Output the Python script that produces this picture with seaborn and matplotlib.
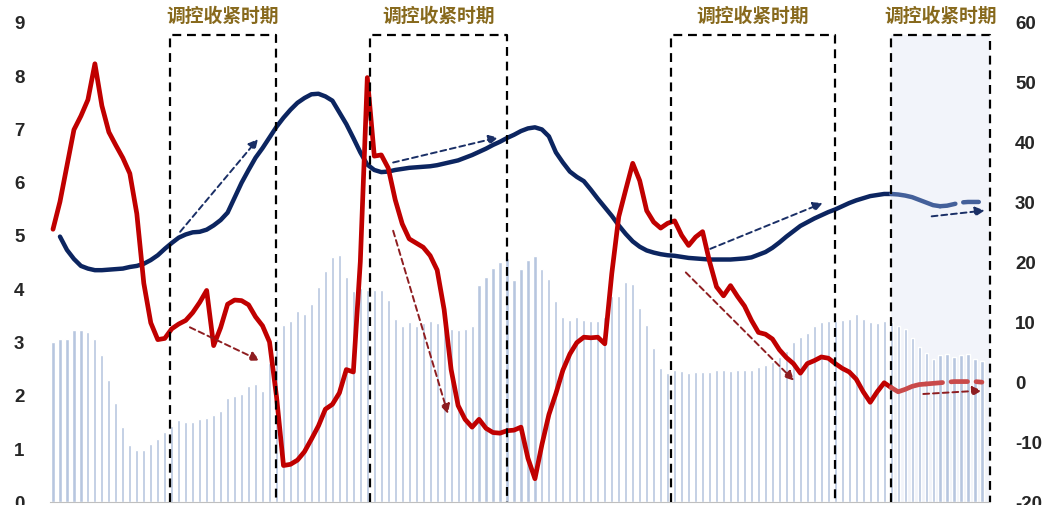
import numpy as np
import matplotlib
matplotlib.use('Agg')
import matplotlib.pyplot as plt
import seaborn as sns

# monthly bars (left axis)
bar_vals = [2.99, 3.05, 3.05, 3.21, 3.22, 3.18, 3.04, 2.74, 2.28, 1.85,
            1.39, 1.06, 0.96, 0.97, 1.08, 1.18, 1.31, 1.41, 1.52, 1.49,
            1.49, 1.55, 1.56, 1.62, 1.69, 1.94, 1.98, 2.01, 2.17, 2.20,
            2.08, 2.60, 3.04, 3.32, 3.39, 3.57, 3.51, 3.71, 4.03, 4.33,
            4.59, 4.62, 4.22, 3.94, 4.01, 3.96, 3.97, 3.97, 3.78, 3.43,
            3.30, 3.36, 3.30, 3.34, 3.38, 3.34, 3.28, 3.23, 3.21, 3.24,
            3.30, 4.06, 4.22, 4.39, 4.49, 4.56, 4.16, 4.37, 4.53, 4.60,
            4.37, 4.17, 3.77, 3.46, 3.41, 3.46, 3.41, 3.39, 3.38, 3.47,
            3.85, 3.85, 4.11, 4.08, 3.63, 3.32, 2.88, 2.50, 2.42, 2.46,
            2.45, 2.42, 2.43, 2.43, 2.43, 2.46, 2.46, 2.45, 2.47, 2.46,
            2.46, 2.53, 2.56, 2.61, 2.72, 2.82, 2.99, 3.09, 3.16, 3.29,
            3.36, 3.38, 3.39, 3.41, 3.43, 3.51, 3.43, 3.36, 3.34, 3.38,
            3.36, 3.30, 3.23, 3.07, 2.90, 2.79, 2.67, 2.75, 2.76, 2.72,
            2.74, 2.76, 2.67, 2.64]

# navy line (left axis)
blue_vals = [np.nan, 4.97, 4.72, 4.55, 4.42, 4.37, 4.34, 4.34, 4.35, 4.36,
             4.37, 4.40, 4.42, 4.46, 4.53, 4.62, 4.74, 4.85, 4.95, 5.01,
             5.05, 5.06, 5.10, 5.18, 5.28, 5.42, 5.70, 5.98, 6.22, 6.45,
             6.63, 6.83, 7.03, 7.20, 7.35, 7.48, 7.57, 7.64, 7.65, 7.60,
             7.52, 7.30, 7.08, 6.82, 6.55, 6.32, 6.22, 6.18, 6.19, 6.22,
             6.24, 6.26, 6.27, 6.28, 6.29, 6.31, 6.34, 6.37, 6.40, 6.45,
             6.50, 6.56, 6.62, 6.69, 6.75, 6.82, 6.88, 6.95, 7.00, 7.02,
             6.98, 6.85, 6.55, 6.36, 6.19, 6.09, 6.01, 5.85, 5.68, 5.52,
             5.36, 5.18, 5.02, 4.88, 4.78, 4.71, 4.67, 4.64, 4.62, 4.61,
             4.59, 4.57, 4.56, 4.55, 4.54, 4.54, 4.54, 4.54, 4.55, 4.56,
             4.58, 4.63, 4.68, 4.76, 4.86, 4.97, 5.07, 5.17, 5.24, 5.31,
             5.37, 5.43, 5.48, 5.54, 5.60, 5.65, 5.69, 5.73, 5.75, 5.77,
             5.77, 5.76, 5.74, 5.71, 5.66, 5.61, 5.56, 5.54, 5.55, 5.58,
             5.61, 5.62, 5.62, 5.62]

# red line (right axis)
red_vals = [25.4, 30.0, 36.0, 42.0, 44.3, 47.0, 53.0, 46.0, 41.6, 39.4,
            37.3, 34.7, 28.0, 16.4, 9.8, 7.0, 7.2, 8.8, 9.6, 10.2,
            11.5, 13.2, 15.2, 6.0, 9.0, 12.9, 13.6, 13.5, 12.8, 10.8,
            9.3, 6.6, -2.5, -14.0, -13.8, -13.1, -11.7, -9.6, -7.4, -4.6,
            -3.8, -1.9, 2.0, 1.6, 20.0, 50.7, 37.6, 37.8, 35.6, 30.3,
            26.3, 23.8, 23.1, 22.4, 21.0, 18.6, 12.0, 2.0, -4.0, -6.3,
            -7.6, -6.3, -7.8, -8.5, -8.6, -8.2, -8.1, -7.6, -12.8, -16.2,
            -10.5, -5.5, -2.0, 1.9, 4.6, 6.5, 7.4, 7.3, 7.4, 6.3,
            18.0, 27.5, 32.0, 36.4, 33.5, 28.5, 26.6, 25.6, 26.4, 26.8,
            24.4, 22.7, 24.1, 25.0, 20.0, 15.8, 14.3, 16.0, 14.2, 12.6,
            10.2, 8.2, 7.9, 7.1, 5.3, 4.0, 3.0, 1.4, 3.0, 3.5,
            4.1, 3.9, 3.0, 2.2, 1.6, 0.4, -1.7, -3.45, -1.7, -0.2,
            -1.0, -1.7, -1.3, -0.8, -0.5, -0.4, -0.3, -0.2, -0.1, 0.0,
            0.0, 0.0, 0.0, -0.1]

# tightening periods (start, end in month index)
periods = [(16.75, 31.93), (45.38, 65.0), (88.47, 111.95), (119.97, 134.15)]
period_label = '调控收紧时期'
box_top = 8.75

# trend arrows: (x0, y0, x1, y1)
blue_arrows = [(18.2, 5.06, 29.35, 6.80), (48.7, 6.36, 63.75, 6.83),
               (94.1, 4.74, 110.2, 5.60), (125.8, 5.35, 133.4, 5.46)]
red_arrows = [(19.6, 9.05, 29.6, 3.5), (48.7, 25.15, 56.55, -5.4),
              (90.6, 18.2, 106.1, 0.15), (124.6, -2.07, 133.0, -1.5)]

forecast_start = 120

sns.set_style('white')
plt.rcParams['font.family'] = ['Liberation Sans', 'Noto Sans CJK SC', 'DejaVu Sans']

fig = plt.figure(figsize=(10.45, 5.06), dpi=100)
ax = fig.add_axes([49.5 / 1045, 3.5 / 506, 940.5 / 1045, 479.7 / 506])

n = len(bar_vals)
idx = np.arange(n)

# shaded latest period
ax.axvspan(periods[3][0], periods[3][1], ymin=0, ymax=box_top / 9,
           color='#f2f4fa', zorder=0, lw=0)

sns.barplot(x=idx, y=bar_vals, color='#b7c6df', saturation=1, width=0.45,
            errorbar=None, ax=ax, zorder=1)

blue = np.array(blue_vals)
fs = forecast_start
sns.lineplot(x=idx[:fs + 1], y=blue[:fs + 1], color='#0c2560', lw=3.2,
             ax=ax, zorder=3, solid_capstyle='round', solid_joinstyle='round')
sns.lineplot(x=idx[fs:128], y=blue[fs:128], color='#44609a', lw=3.2,
             ax=ax, zorder=3, solid_capstyle='round')
ax.plot(idx[127:], blue[127:], color='#44609a', lw=3.2, ls=(0, (3.5, 1.8)),
        zorder=3, dash_capstyle='round')

ax.set_ylim(0, 9)
ax.set_xlim(-0.5, 134.15)

ax2 = ax.twinx()
red = np.array(red_vals)
sns.lineplot(x=idx[:fs + 1], y=red[:fs + 1], color='#c00000', lw=3.4,
             ax=ax2, zorder=4, solid_capstyle='round', solid_joinstyle='round')
sns.lineplot(x=idx[fs:126], y=red[fs:126], color='#c94a4a', lw=3.4,
             ax=ax2, zorder=4, solid_capstyle='round')
ax2.plot(idx[125:], red[125:], color='#c94a4a', lw=3.4, ls=(0, (3.5, 1.8)),
         zorder=4, dash_capstyle='round')
ax2.set_ylim(-20, 60)
ax2.set_xlim(-0.5, 134.15)

# arrows
for x0, y0, x1, y1 in blue_arrows:
    ax2.annotate('', xy=(x1, (y1 / 9) * 80 - 20), xytext=(x0, (y0 / 9) * 80 - 20),
                 arrowprops=dict(arrowstyle='-|>', color='#1a2f66', lw=1.4,
                                 ls=(0, (3, 2)), mutation_scale=14,
                                 shrinkA=0, shrinkB=0), zorder=6)
for x0, y0, x1, y1 in red_arrows:
    ax2.annotate('', xy=(x1, y1), xytext=(x0, y0),
                 arrowprops=dict(arrowstyle='-|>', color='#8e1d20', lw=1.4,
                                 ls=(0, (3, 2)), mutation_scale=14,
                                 shrinkA=0, shrinkB=0), zorder=6)

# dashed boxes and labels
for x0, x1 in periods:
    ax2.plot([x0, x0, x1, x1], [-20, box_top / 9 * 80 - 20, box_top / 9 * 80 - 20, -20],
             color='black', lw=1.6, ls=(0, (4, 2.6)), zorder=7, clip_on=False)
    ax2.text((x0 + x1) / 2, 9.11 / 9 * 80 - 20, period_label, ha='center', va='center',
             fontsize=13.5, fontweight='bold', color='#87691c',
             family=['Noto Sans CJK SC', 'DejaVu Sans'], clip_on=False)

# axes styling
for a in (ax, ax2):
    for s in ('top', 'left', 'right'):
        a.spines[s].set_visible(False)
    a.grid(False)
ax.spines['bottom'].set_color('#bfbfbf')
ax2.spines['bottom'].set_visible(False)

ax.set_yticks(range(0, 10))
ax.set_yticklabels([str(v) for v in range(0, 10)])
ax2.set_yticks(range(-20, 61, 10))
ax2.set_yticklabels([str(v) for v in range(-20, 61, 10)])
ax.tick_params(axis='y', length=0, pad=18, labelsize=13.5)
ax2.tick_params(axis='y', length=0, pad=18, labelsize=13.5)
for lab in ax.get_yticklabels() + ax2.get_yticklabels():
    lab.set_fontweight('bold')

ax.set_xticks(np.arange(-0.5, 134, 6))
ax.set_xticklabels([])
ax.tick_params(axis='x', length=4, width=1, color='#bfbfbf', direction='out')
ax.set_xlabel('')
ax.set_ylabel('')
ax2.set_ylabel('')

ax.set_zorder(1)
ax2.set_zorder(2)
ax.patch.set_visible(False)
ax2.patch.set_visible(False)

fig.savefig('out.png', dpi=100)
